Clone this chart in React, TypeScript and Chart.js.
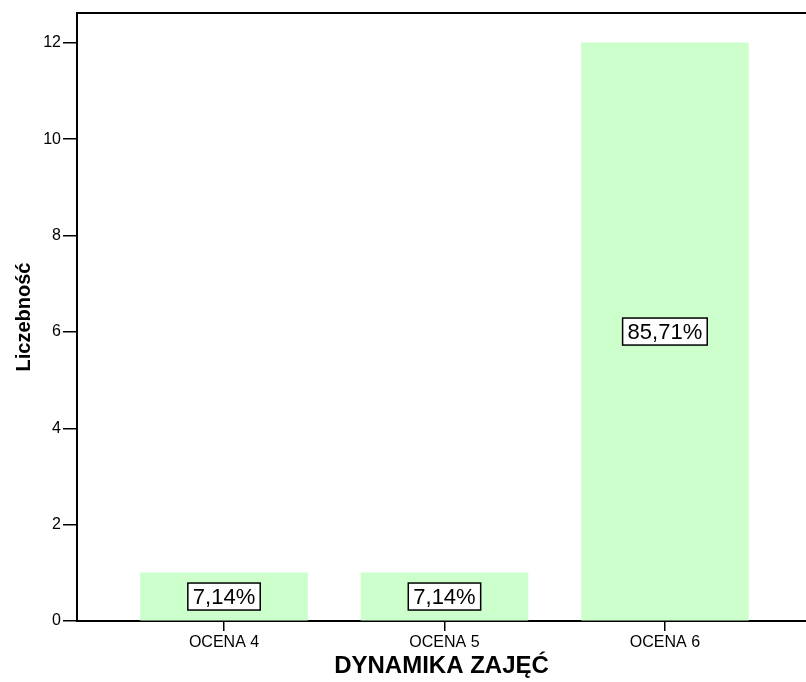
import React, { useEffect, useRef } from "react";
import { Chart, registerables } from "chart.js";

Chart.register(...registerables);

const categories: string[] = ["OCENA 4", "OCENA 5", "OCENA 6"];
const counts: number[] = [1, 1, 12];
const yTicks: number[] = [0, 2, 4, 6, 8, 10, 12];
const xTitle = "DYNAMIKA ZAJĘĆ";
const yTitle = "Liczebność";

const FONT = "'Liberation Sans', Arial, sans-serif";

const total = counts.reduce((a, b) => a + b, 0);
const pctLabels: string[] = counts.map(
  (v) => (Math.round((v / total) * 10000) / 100).toFixed(2).replace(".", ",") + "%"
);

const topFrame = {
  id: "topFrame",
  afterDraw(chart: any) {
    const { ctx, chartArea } = chart;
    ctx.save();
    ctx.strokeStyle = "#000";
    ctx.lineWidth = 2;
    ctx.beginPath();
    ctx.moveTo(chartArea.left, chartArea.top);
    ctx.lineTo(chartArea.right, chartArea.top);
    ctx.stroke();
    ctx.restore();
  },
};

const boxLabels = {
  id: "boxLabels",
  afterDatasetsDraw(chart: any) {
    const { ctx } = chart;
    const meta = chart.getDatasetMeta(0);
    ctx.save();
    ctx.font = `22px ${FONT}`;
    ctx.textAlign = "center";
    ctx.textBaseline = "middle";
    meta.data.forEach((bar: any, i: number) => {
      const { x, y, base } = bar.getProps(["x", "y", "base"], true);
      const cy = (y + base) / 2;
      const text = pctLabels[i];
      const w = ctx.measureText(text).width + 10;
      const h = 27;
      ctx.fillStyle = "#fff";
      ctx.fillRect(x - w / 2, cy - h / 2, w, h);
      ctx.strokeStyle = "#000";
      ctx.lineWidth = 1.5;
      ctx.strokeRect(x - w / 2, cy - h / 2, w, h);
      ctx.fillStyle = "#000";
      ctx.fillText(text, x, cy + 1);
    });
    ctx.restore();
  },
};

export default function App() {
  const ref = useRef<HTMLCanvasElement | null>(null);

  useEffect(() => {
    document.body.style.margin = "0";
    if (!ref.current) return;
    const chart = new Chart(ref.current, {
      type: "bar",
      data: {
        datasets: [
          {
            data: counts.map((v, i) => ({ x: i, y: v })),
            backgroundColor: "#ccffcc",
            borderWidth: 0,
            barThickness: 167,
          },
        ],
      },
      options: {
        responsive: false,
        animation: false,
        layout: { padding: { top: 13, left: 0, right: 0, bottom: 0 } },
        plugins: {
          legend: { display: false },
          tooltip: { enabled: false },
        },
        scales: {
          x: {
            type: "linear",
            min: -0.667,
            max: 2.64,
            offset: false,
            afterBuildTicks: (axis: any) => {
              axis.ticks = categories.map((_, i) => ({ value: i }));
            },
            afterFit: (s: any) => {
              s.height = 61;
            },
            ticks: {
              callback: (v: any) => categories[v as number] ?? "",
              color: "#000",
              font: { family: FONT, size: 16 },
              padding: 2,
              maxRotation: 0,
              autoSkip: false,
            },
            grid: {
              display: true,
              offset: false,
              drawOnChartArea: false,
              drawTicks: true,
              tickLength: 10,
              color: "#000",
              lineWidth: 1.5,
            },
            border: { display: true, color: "#000", width: 2 },
            title: {
              display: true,
              text: xTitle,
              color: "#000",
              font: { family: FONT, size: 24, weight: "bold" },
              padding: { top: 0, bottom: 1 },
            },
          },
          y: {
            type: "linear",
            min: 0,
            max: 12.62,
            afterBuildTicks: (axis: any) => {
              axis.ticks = yTicks.map((v) => ({ value: v }));
            },
            afterFit: (s: any) => {
              s.width = 77;
            },
            ticks: {
              color: "#000",
              font: { family: FONT, size: 16 },
              padding: 2,
            },
            grid: {
              display: true,
              drawOnChartArea: false,
              drawTicks: true,
              tickLength: 14,
              color: "#000",
              lineWidth: 1.5,
            },
            border: { display: true, color: "#000", width: 2 },
            title: {
              display: true,
              text: yTitle,
              color: "#000",
              font: { family: FONT, size: 20, weight: "bold" },
              padding: { top: 12, bottom: 0 },
            },
          },
        },
      },
      plugins: [topFrame, boxLabels],
    } as any);
    return () => chart.destroy();
  }, []);

  return (
    <div style={{ width: 806, height: 682 }}>
      <canvas ref={ref} width={806} height={682} style={{ display: "block" }} />
    </div>
  );
}
